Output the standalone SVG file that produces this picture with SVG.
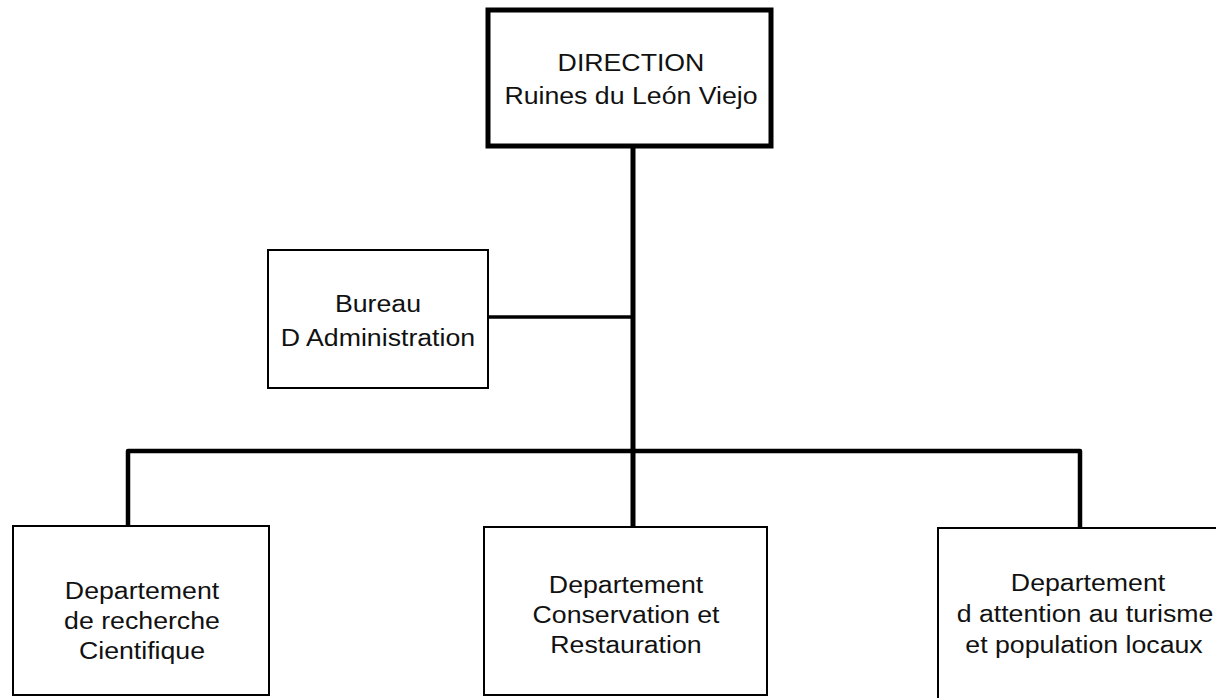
<svg xmlns="http://www.w3.org/2000/svg" width="1216" height="698" viewBox="0 0 1216 698">
<style>
.box{fill:#fff;stroke:#000;stroke-width:2}
.main{fill:#fff;stroke:#000;stroke-width:5}
.lbl{font-family:"Liberation Sans",Arial,sans-serif;font-size:24.5px;fill:#111;text-anchor:middle}
.con{fill:none;stroke:#000;stroke-linejoin:round;stroke-linecap:butt}
</style>
<rect width="1216" height="698" fill="#fff"/>
<g id="connectors">
<path class="con" stroke-width="5" d="M633,148 V527"/>
<path class="con" stroke-width="3.5" d="M488,317 H633"/>
<path class="con" stroke-width="4.5" d="M128,526 V451 H1080 V527"/>
</g>
<g id="direction">
<rect class="main" x="488" y="10" width="283" height="136"/>
<text class="lbl" transform="matrix(1.09 0 0 1 631 0)" x="0" y="71">DIRECTION</text>
<text class="lbl" transform="matrix(1.09 0 0 1 631 0)" x="0" y="104">Ruines du León Viejo</text>
</g>
<g id="bureau">
<rect class="box" x="268" y="250" width="220" height="138"/>
<text class="lbl" transform="matrix(1.09 0 0 1 378 0)" x="0" y="312">Bureau</text>
<text class="lbl" transform="matrix(1.09 0 0 1 378 0)" x="0" y="346">D Administration</text>
</g>
<g id="dept-recherche">
<rect class="box" x="13" y="526" width="256" height="169"/>
<text class="lbl" transform="matrix(1.09 0 0 1 142 0)" x="0" y="599">Departement</text>
<text class="lbl" transform="matrix(1.09 0 0 1 142 0)" x="0" y="629">de recherche</text>
<text class="lbl" transform="matrix(1.09 0 0 1 142 0)" x="0" y="659">Cientifique</text>
</g>
<g id="dept-conservation">
<rect class="box" x="484" y="527" width="283" height="168"/>
<text class="lbl" transform="matrix(1.09 0 0 1 626 0)" x="0" y="593">Departement</text>
<text class="lbl" transform="matrix(1.09 0 0 1 626 0)" x="0" y="623">Conservation et</text>
<text class="lbl" transform="matrix(1.09 0 0 1 626 0)" x="0" y="653">Restauration</text>
</g>
<g id="dept-turisme">
<rect class="box" x="938" y="528" width="290" height="200"/>
<text class="lbl" transform="matrix(1.09 0 0 1 1088 0)" x="0" y="591">Departement</text>
<text class="lbl" transform="matrix(1.09 0 0 1 1085 0)" x="0" y="622">d attention au turisme</text>
<text class="lbl" transform="matrix(1.09 0 0 1 1084 0)" x="0" y="653">et population locaux</text>
</g>
</svg>
